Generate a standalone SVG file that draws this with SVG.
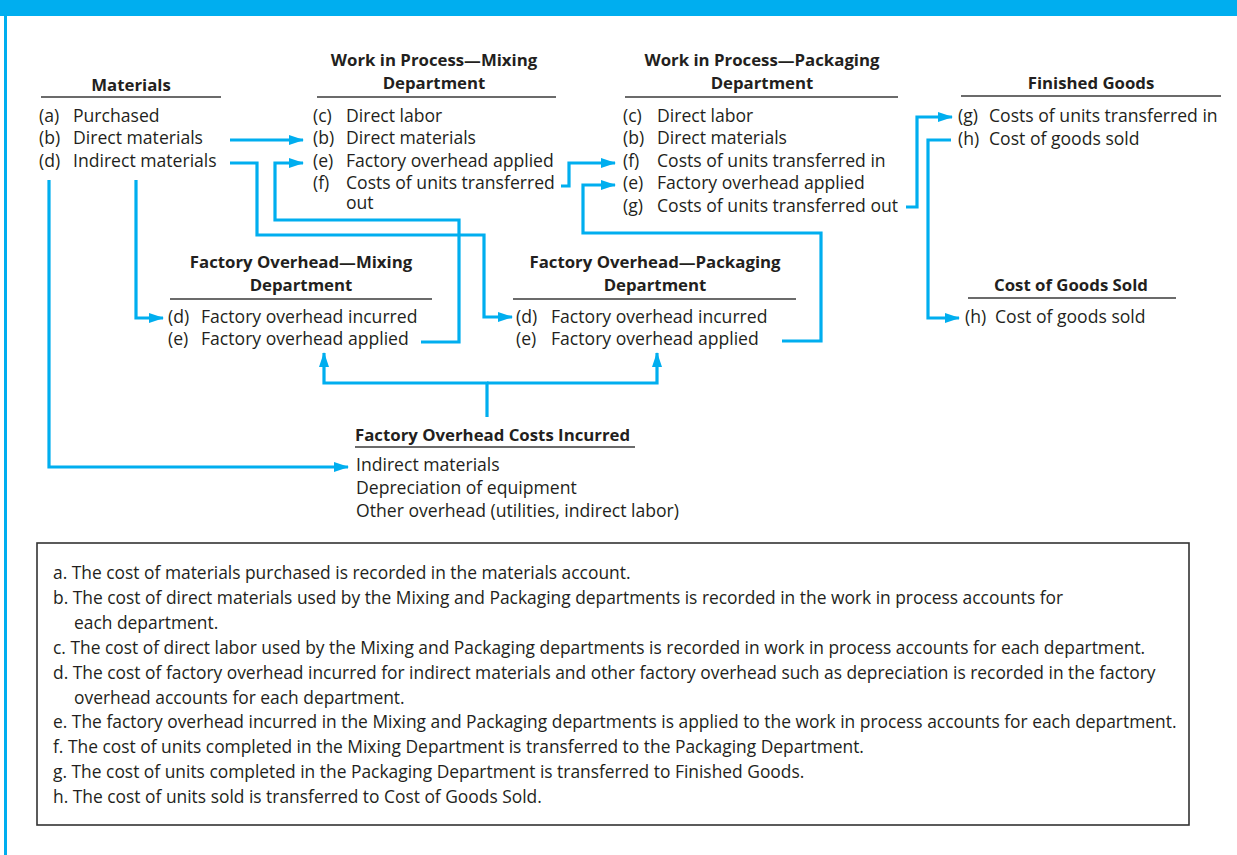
<svg xmlns="http://www.w3.org/2000/svg" width="1237" height="855" viewBox="0 0 1237 855">
  <style>
    .hd { font-family: "Open Sans", "Liberation Sans", sans-serif; font-weight: 700; font-size: 16.8px; fill: #231f20; text-anchor: middle; }
    .hdl { font-family: "Open Sans", "Liberation Sans", sans-serif; font-weight: 700; font-size: 16.8px; fill: #231f20; }
    .it { font-family: "Open Sans", "Liberation Sans", sans-serif; font-size: 17.6px; fill: #231f20; }
    .nt { font-family: "Open Sans", "Liberation Sans", sans-serif; font-size: 17.4px; fill: #231f20; }
    .rule { stroke: #3a3a3a; stroke-width: 1.6; fill: none; }
    .flow { stroke: #00aeef; stroke-width: 3.2; fill: none; stroke-linejoin: miter; stroke-linecap: butt; marker-end: url(#arrow); }
  </style>
  <defs>
    <marker id="arrow" markerUnits="userSpaceOnUse" markerWidth="15" markerHeight="10" refX="14" refY="5" orient="auto">
      <path d="M0,0 L15,5 L0,10 Z" fill="#00aeef"/>
    </marker>
  </defs>

  <!-- page frame -->
  <rect x="0" y="0" width="1237" height="16" fill="#00aeef"/>
  <rect x="4" y="0" width="3" height="855" fill="#00aeef"/>

  <!-- ledger accounts -->
  <g id="materials">
    <text class="hd" x="131" y="91">Materials</text>
    <line class="rule" x1="41" y1="97" x2="221" y2="97"/>
    <text class="it" y="121.5"><tspan x="39">(a)</tspan><tspan x="73">Purchased</tspan></text>
    <text class="it" y="144"><tspan x="39">(b)</tspan><tspan x="73">Direct materials</tspan></text>
    <text class="it" y="166.5"><tspan x="39">(d)</tspan><tspan x="73">Indirect materials</tspan></text>
  </g>

  <g id="wip-mixing">
    <text class="hd" x="434" y="66">Work in Process—Mixing</text>
    <text class="hd" x="434" y="89">Department</text>
    <line class="rule" x1="317" y1="97" x2="556" y2="97"/>
    <text class="it" y="121.5"><tspan x="313">(c)</tspan><tspan x="346">Direct labor</tspan></text>
    <text class="it" y="144"><tspan x="313">(b)</tspan><tspan x="346">Direct materials</tspan></text>
    <text class="it" y="166.5"><tspan x="313">(e)</tspan><tspan x="346">Factory overhead applied</tspan></text>
    <text class="it" y="189"><tspan x="313">(f)</tspan><tspan x="346">Costs of units transferred</tspan></text>
    <text class="it" x="346" y="209">out</text>
  </g>

  <g id="wip-packaging">
    <text class="hd" x="762" y="66">Work in Process—Packaging</text>
    <text class="hd" x="762" y="89">Department</text>
    <line class="rule" x1="625" y1="97" x2="898" y2="97"/>
    <text class="it" y="121.5"><tspan x="623">(c)</tspan><tspan x="657">Direct labor</tspan></text>
    <text class="it" y="144"><tspan x="623">(b)</tspan><tspan x="657">Direct materials</tspan></text>
    <text class="it" y="166.5"><tspan x="623">(f)</tspan><tspan x="657">Costs of units transferred in</tspan></text>
    <text class="it" y="189"><tspan x="623">(e)</tspan><tspan x="657">Factory overhead applied</tspan></text>
    <text class="it" y="211.5"><tspan x="623">(g)</tspan><tspan x="657">Costs of units transferred out</tspan></text>
  </g>

  <g id="finished-goods">
    <text class="hd" x="1091" y="89">Finished Goods</text>
    <line class="rule" x1="961" y1="96" x2="1221" y2="96"/>
    <text class="it" y="122"><tspan x="958">(g)</tspan><tspan x="989">Costs of units transferred in</tspan></text>
    <text class="it" y="144.5"><tspan x="958">(h)</tspan><tspan x="989">Cost of goods sold</tspan></text>
  </g>

  <g id="cost-of-goods-sold">
    <text class="hd" x="1071" y="291">Cost of Goods Sold</text>
    <line class="rule" x1="968" y1="298" x2="1176" y2="298"/>
    <text class="it" y="322.5"><tspan x="965">(h)</tspan><tspan x="995">Cost of goods sold</tspan></text>
  </g>

  <g id="foh-mixing">
    <text class="hd" x="301" y="268">Factory Overhead—Mixing</text>
    <text class="hd" x="301" y="291">Department</text>
    <line class="rule" x1="170" y1="299" x2="432" y2="299"/>
    <text class="it" y="322.5"><tspan x="168">(d)</tspan><tspan x="201">Factory overhead incurred</tspan></text>
    <text class="it" y="345"><tspan x="168">(e)</tspan><tspan x="201">Factory overhead applied</tspan></text>
  </g>

  <g id="foh-packaging">
    <text class="hd" x="655" y="268">Factory Overhead—Packaging</text>
    <text class="hd" x="655" y="291">Department</text>
    <line class="rule" x1="513" y1="299" x2="796" y2="299"/>
    <text class="it" y="322.5"><tspan x="516">(d)</tspan><tspan x="551">Factory overhead incurred</tspan></text>
    <text class="it" y="345"><tspan x="516">(e)</tspan><tspan x="551">Factory overhead applied</tspan></text>
  </g>

  <g id="foh-costs-incurred">
    <text class="hdl" x="355" y="441">Factory Overhead Costs Incurred</text>
    <line class="rule" x1="355" y1="447" x2="635" y2="447"/>
    <text class="it" x="356" y="471">Indirect materials</text>
    <text class="it" x="356" y="494">Depreciation of equipment</text>
    <text class="it" x="356" y="516.5">Other overhead (utilities, indirect labor)</text>
  </g>

  <!-- flows between accounts -->
  <g id="connectors">
    <path class="flow" d="M230,140 H303"/>
    <path class="flow" d="M230,163 H257 V235 H484 V317 H512"/>
    <path class="flow" d="M421,342 H459 V220 H275 V163 H303"/>
    <path class="flow" d="M561,186 H569 V163 H615"/>
    <path class="flow" d="M782,341 H821 V233 H583 V185 H615"/>
    <path class="flow" d="M906,207 H917 V117 H952"/>
    <path class="flow" d="M951,140 H928 V318 H959"/>
    <path class="flow" d="M49,180 V467 H348"/>
    <path class="flow" d="M136,180 V318 H163"/>
    <path class="flow" d="M487,417 V383 H324 V353"/>
    <path class="flow" d="M487,383 H657 V353"/>
  </g>

  <!-- explanatory notes -->
  <g id="notes">
    <rect x="37" y="543" width="1152" height="282" fill="#ffffff" stroke="#333333" stroke-width="1.6"/>
    <text class="nt" x="53" y="579">a. The cost of materials purchased is recorded in the materials account.</text>
    <text class="nt" x="53" y="604">b. The cost of direct materials used by the Mixing and Packaging departments is recorded in the work in process accounts for</text>
    <text class="nt" x="74" y="629">each department.</text>
    <text class="nt" x="53" y="654">c. The cost of direct labor used by the Mixing and Packaging departments is recorded in work in process accounts for each department.</text>
    <text class="nt" x="53" y="679">d. The cost of factory overhead incurred for indirect materials and other factory overhead such as depreciation is recorded in the factory</text>
    <text class="nt" x="74" y="704">overhead accounts for each department.</text>
    <text class="nt" x="53" y="728">e. The factory overhead incurred in the Mixing and Packaging departments is applied to the work in process accounts for each department.</text>
    <text class="nt" x="53" y="753">f. The cost of units completed in the Mixing Department is transferred to the Packaging Department.</text>
    <text class="nt" x="53" y="778">g. The cost of units completed in the Packaging Department is transferred to Finished Goods.</text>
    <text class="nt" x="53" y="803">h. The cost of units sold is transferred to Cost of Goods Sold.</text>
  </g>
</svg>
